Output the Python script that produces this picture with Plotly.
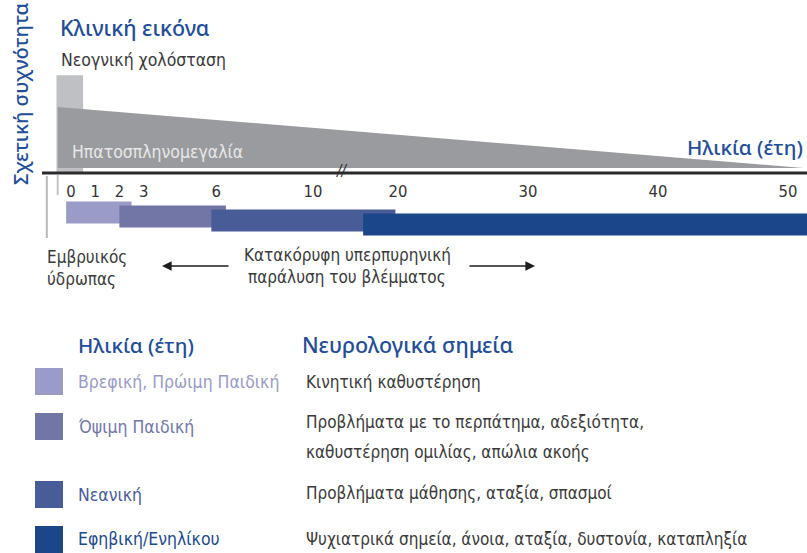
import numpy as np
import plotly.graph_objects as go

# ---------------- data ----------------
TICK_AGES = [0, 1, 2, 3, 6, 10, 20, 30, 40, 50]

STAGES = ["Βρεφική, Πρώιμη Παιδική", "Όψιμη Παιδική", "Νεανική", "Εφηβική/Ενηλίκου"]
STAGE_START = [-0.2, 2.0, 5.8, 15.9]
STAGE_END = [2.5, 6.4, 19.7, 52.0]

SIGNS = [
    ["Κινητική καθυστέρηση"],
    ["Προβλήματα με το περπάτημα, αδεξιότητα,", "καθυστέρηση ομιλίας, απώλια ακοής"],
    ["Προβλήματα μάθησης, αταξία, σπασμοί"],
    ["Ψυχιατρικά σημεία, άνοια, αταξία, δυστονία, καταπληξία"],
]

CHOL_AGE = [-0.6, 0.5]       # Νεογνική χολόσταση (age span)
CHOL_FREQ = 1.52             # relative frequency
HEPATO_AGE = [-0.55, 51.2]   # Ηπατοσπληνομεγαλία
HEPATO_FREQ = [1.0, 0.0]
HYDROPS_AGE = -1.0           # Εμβρυικός ύδρωπας (prenatal)

# ---------------- broken age scale ----------------
AGE_KNOTS = [0, 10, 20, 50]
U_KNOTS = [0, 10, 13.51, 29.63]


def u(age):
    a = np.atleast_1d(np.asarray(age, dtype=float))
    out = np.interp(a, AGE_KNOTS, U_KNOTS)
    s_hi = (U_KNOTS[-1] - U_KNOTS[-2]) / (AGE_KNOTS[-1] - AGE_KNOTS[-2])
    out = np.where(a < AGE_KNOTS[0], U_KNOTS[0] + (a - AGE_KNOTS[0]), out)
    out = np.where(a > AGE_KNOTS[-1], U_KNOTS[-1] + (a - AGE_KNOTS[-1]) * s_hi, out)
    return out


# ---------------- styles ----------------
W, H = 807, 553
BLUE = "#234d96"
TXT = "#3a3a3a"
STAGE_COLORS = ["#9a9bc6", "#7276a6", "#485c97", "#1b4789"]
STAGE_TEXT_COLORS = ["#9a9bc6", "#7276a6", "#4a5c98", "#1d4a8c"]
LIGHT_GRAY = "#bfc0c3"
DARK_GRAY = "#9a9b9e"
COND = "Liberation Sans Narrow, DejaVu Sans Condensed, Arial Narrow, Roboto, sans-serif"
ROUND = "Noto Sans, Open Sans, sans-serif"


def PX(x):
    return x / W


def PY(y):
    return 1 - y / H


fig = go.Figure()

# Neonatal cholestasis block
cx = u(CHOL_AGE)
fig.add_trace(go.Scatter(
    x=[cx[0], cx[0], cx[1], cx[1], cx[0]],
    y=[-0.07, CHOL_FREQ, CHOL_FREQ, -0.07, -0.07],
    mode="lines", fill="toself", fillcolor=LIGHT_GRAY,
    line=dict(width=0, color=LIGHT_GRAY), hoverinfo="skip", showlegend=False))

# Hepatosplenomegaly wedge
fig.add_trace(go.Scatter(
    x=u(HEPATO_AGE), y=HEPATO_FREQ, mode="lines", fill="tozeroy",
    fillcolor=DARK_GRAY, line=dict(width=0, color=DARK_GRAY),
    hoverinfo="skip", showlegend=False))

# stage bars
us = u(STAGE_START)
ue = u(STAGE_END)
fig.add_trace(go.Bar(
    orientation="h", y=list(range(len(STAGES))), x=ue - us, base=us,
    width=5.5, marker=dict(color=STAGE_COLORS, line=dict(width=0)),
    yaxis="y2", hoverinfo="skip", showlegend=False))

# ---------------- axes ----------------
x_left = -71 / 24.2
x_right = (W - 71) / 24.2
fig.update_layout(
    width=W, height=H,
    margin=dict(l=0, r=0, t=0, b=0),
    paper_bgcolor="white", plot_bgcolor="white",
    barmode="overlay",
    xaxis=dict(range=[x_left, x_right], domain=[0, 1], anchor="free",
               position=PY(173), showgrid=False, zeroline=False, showline=False,
               tickmode="array", tickvals=list(u(TICK_AGES)),
               ticktext=[str(t) for t in TICK_AGES], ticks="",
               ticklabelstandoff=6,
               tickfont=dict(family=COND, size=16.5, color="#333333"),
               automargin=False, fixedrange=True),
    yaxis=dict(range=[-(H - 168) / 61, 168 / 61], domain=[0, 1], visible=False,
               fixedrange=True),
    yaxis2=dict(range=[(H - 212.5) / 4, -212.5 / 4], domain=[0, 1],
                overlaying="y", visible=False, fixedrange=True),
)

shapes = []
# horizontal age axis line
shapes.append(dict(type="line", xref="paper", yref="paper",
                   x0=PX(42), x1=1, y0=PY(173), y1=PY(173),
                   line=dict(color="#2b2b2b", width=3)))
# small vertical marks
shapes.append(dict(type="line", xref="x", yref="paper",
                   x0=float(u(HYDROPS_AGE)[0]), x1=float(u(HYDROPS_AGE)[0]),
                   y0=PY(176), y1=PY(238), line=dict(color="#b8b8b8", width=2)))
shapes.append(dict(type="line", xref="x", yref="paper",
                   x0=float(cx[0]) + 0.05, x1=float(cx[0]) + 0.05,
                   y0=PY(175), y1=PY(195), line=dict(color="#c4c4c4", width=2)))
# legend squares
sq_tops = [368, 413, 481, 526]
for c, t in zip(STAGE_COLORS, sq_tops):
    shapes.append(dict(type="rect", xref="paper", yref="paper",
                       x0=PX(35), x1=PX(63), y0=PY(t + 27), y1=PY(t),
                       fillcolor=c, line=dict(width=0)))

ann = []


def text(s, x, y, size, color, family=COND, xanchor="left", weight=None, **kw):
    f = dict(family=family, size=size, color=color)
    if weight:
        f["weight"] = weight
    ann.append(dict(text=s, x=PX(x), y=PY(y), xref="paper", yref="paper",
                    xanchor=xanchor, yanchor="middle", showarrow=False,
                    font=f, **kw))


text("Σχετική συχνότητα", 20, 94, 20, BLUE, family=ROUND, xanchor="center",
     weight=500, textangle=-90)
text("Κλινική εικόνα", 58, 27, 21.5, BLUE, family=ROUND, weight=500)
text("Νεογνική χολόσταση", 59, 60, 17.5, TXT)
text("Ηπατοσπληνομεγαλία", 70, 152, 17.5, "#e8e8e8")
text("Ηλικία (έτη)", 805, 147, 20.5, BLUE, family=ROUND, xanchor="right", weight=500)
text("<i>//</i>", 342, 171, 15, "#2b2b2b", xanchor="center")
text("Εμβρυικός", 45, 257, 17, TXT)
text("ύδρωπας", 45, 279, 17, TXT)
text("Κατακόρυφη υπερπυρηνική", 347, 255, 17, TXT, xanchor="center")
text("παράλυση του βλέμματος", 347, 277, 17, TXT, xanchor="center")

# arrows
for tip, tail in [(162, 230), (535, 468)]:
    ann.append(dict(text="", x=PX(tip), y=PY(266), xref="paper", yref="paper",
                    showarrow=True, ax=tail - tip, ay=0, arrowhead=2,
                    arrowsize=1.2, arrowwidth=1.6, arrowcolor="#1e1e1e"))

# legend table
text("Ηλικία (έτη)", 76, 345, 20.5, BLUE, family=ROUND, weight=500)
text("Νευρολογικά σημεία", 300, 345, 21.5, BLUE, family=ROUND, weight=500)
label_y = [382, 427, 495, 539]
sign_y = [[382], [422, 452], [493], [539]]
for i, name in enumerate(STAGES):
    text(name, 76, label_y[i], 17.5, STAGE_TEXT_COLORS[i])
    for line, yy in zip(SIGNS[i], sign_y[i]):
        text(line, 304, yy, 17, TXT)

fig.update_layout(shapes=shapes, annotations=ann)
fig.write_html("out.html", config={"displayModeBar": False},
               post_script="document.body.style.margin='0';document.body.style.padding='0';")
